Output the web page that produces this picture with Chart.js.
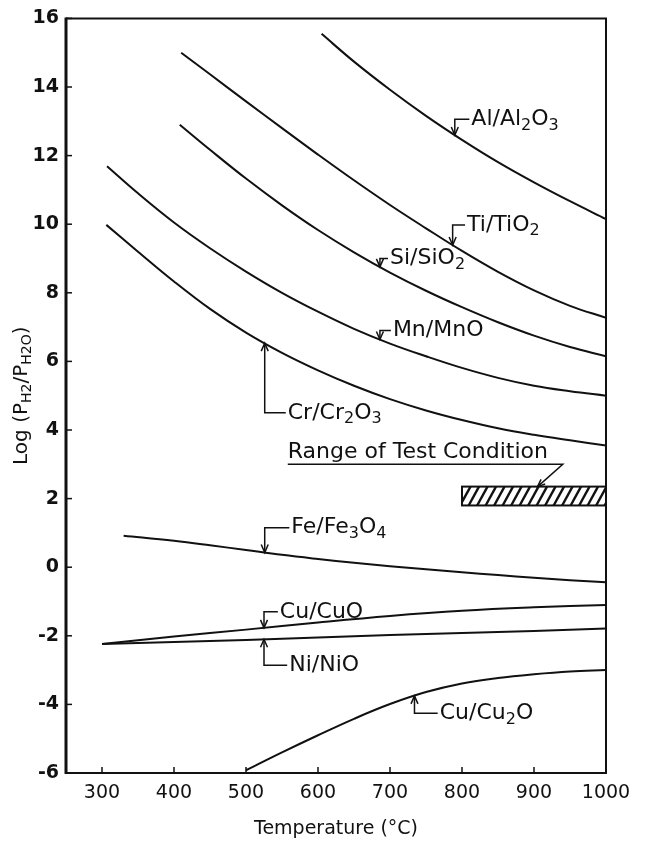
<!DOCTYPE html>
<html>
<head>
<meta charset="utf-8">
<script src="https://cdn.jsdelivr.net/npm/chart.js@4.4.1/dist/chart.umd.min.js"></script>
<style>
  html, body { margin: 0; padding: 0; background: #fff; }
  canvas { display: block; }
</style>
</head>
<body>
<canvas id="chart" width="654" height="844"></canvas>
<script>
// Axis ticks
const xTicks = [300, 400, 500, 600, 700, 800, 900, 1000];
const yTicks = [-6, -4, -2, 0, 2, 4, 6, 8, 10, 12, 14, 16];

// Equilibrium log(PH2/PH2O) of metal/oxide couples vs temperature (°C)
const alTemp = [605, 650, 700, 750, 800, 850, 900, 950, 1000];
const alLog  = [15.55, 14.74, 13.92, 13.16, 12.46, 11.81, 11.22, 10.67, 10.15];

const tiTemp = [410, 450, 500, 550, 600, 650, 700, 750, 800, 850, 900, 950, 1000];
const tiLog  = [15.0, 14.37, 13.58, 12.8, 12.03, 11.28, 10.56, 9.88, 9.22, 8.61, 8.07, 7.62, 7.27];

const siTemp = [408, 450, 500, 550, 600, 650, 700, 750, 800, 850, 900, 950, 1000];
const siLog  = [12.9, 12.17, 11.33, 10.55, 9.83, 9.18, 8.59, 8.06, 7.58, 7.14, 6.75, 6.42, 6.15];

const mnTemp = [307, 350, 400, 450, 500, 550, 600, 650, 700, 750, 800, 850, 900, 950, 1000];
const mnLog  = [11.69, 10.9, 10.05, 9.3, 8.62, 8.0, 7.45, 6.95, 6.52, 6.15, 5.81, 5.52, 5.29, 5.13, 5.0];

const crTemp = [306, 350, 400, 450, 500, 550, 600, 650, 700, 750, 800, 850, 900, 950, 1000];
const crLog  = [9.98, 9.2, 8.33, 7.53, 6.84, 6.25, 5.74, 5.29, 4.9, 4.57, 4.29, 4.05, 3.86, 3.7, 3.55];

const feTemp = [330, 400, 450, 500, 550, 600, 650, 700, 750, 800, 850, 900, 950, 1000];
const feLog  = [0.92, 0.77, 0.64, 0.5, 0.36, 0.24, 0.13, 0.03, -0.06, -0.15, -0.23, -0.31, -0.38, -0.44];

const cuoTemp = [300, 400, 500, 600, 700, 800, 900, 1000];
const cuoLog  = [-2.24, -2.02, -1.82, -1.61, -1.42, -1.27, -1.17, -1.1];

const nioTemp = [300, 400, 500, 600, 700, 800, 900, 1000];
const nioLog  = [-2.24, -2.18, -2.12, -2.05, -1.98, -1.92, -1.86, -1.79];

const cu2oTemp = [500, 550, 600, 650, 700, 750, 800, 850, 900, 950, 1000];
const cu2oLog  = [-5.92, -5.4, -4.9, -4.42, -3.99, -3.64, -3.39, -3.23, -3.12, -3.04, -3.0];

// Range of test condition (temperature span, log span)
const rangeTemp = [800, 1000];
const rangeLog  = [1.8, 2.35];

const INK = '#111';
const FONT = '"DejaVu Sans", "Liberation Sans", sans-serif';
const LABEL_SIZE = 22;

function series(temps, vals) {
  return {
    data: temps.map((t, i) => ({ x: t, y: vals[i] })),
    borderColor: INK,
    borderWidth: 2,
    pointRadius: 0,
    fill: false,
    tension: 0.4
  };
}

function interp(ts, vs, t) {
  if (t <= ts[0]) return vs[0];
  for (let i = 1; i < ts.length; i++) {
    if (t <= ts[i]) {
      const f = (t - ts[i - 1]) / (ts[i] - ts[i - 1]);
      return vs[i - 1] + f * (vs[i] - vs[i - 1]);
    }
  }
  return vs[vs.length - 1];
}

// Text with "_x" or "_{xy}" subscript markup
function parseRich(str) {
  const segs = [];
  let i = 0;
  while (i < str.length) {
    if (str[i] === '_') {
      if (str[i + 1] === '{') {
        const j = str.indexOf('}', i);
        segs.push([str.slice(i + 2, j), true]);
        i = j + 1;
      } else {
        segs.push([str[i + 1], true]);
        i += 2;
      }
    } else {
      let j = i;
      while (j < str.length && str[j] !== '_') j++;
      segs.push([str.slice(i, j), false]);
      i = j;
    }
  }
  return segs;
}

function drawRich(ctx, str, x, y, size, align, weight) {
  const segs = parseRich(str);
  const w = weight || 'normal';
  const big = `${w} ${size}px ${FONT}`;
  const small = `${w} ${Math.round(size * 0.72)}px ${FONT}`;
  let total = 0;
  const widths = segs.map(([s, sub]) => {
    ctx.font = sub ? small : big;
    const m = ctx.measureText(s).width;
    total += m;
    return m;
  });
  let cx = align === 'center' ? x - total / 2 : x;
  ctx.textBaseline = 'middle';
  ctx.textAlign = 'left';
  segs.forEach(([s, sub], k) => {
    ctx.font = sub ? small : big;
    ctx.fillText(s, cx, sub ? y + size * 0.28 : y);
    cx += widths[k];
  });
  return total;
}

function arrowHead(ctx, x, y, dirY) {
  // open arrowhead pointing toward dirY (+1 down, -1 up)
  const L = 8, W = 3.5;
  ctx.beginPath();
  ctx.moveTo(x - W, y - dirY * L);
  ctx.lineTo(x, y);
  ctx.lineTo(x + W, y - dirY * L);
  ctx.stroke();
}

// Callout labels: tip sits on the curve at tipAt, text starts at [temp, log]
const callouts = [
  { text: 'Al/Al_2O_3',  temps: alTemp,   vals: alLog,   tipAt: 790, textAt: [813, 13.06] },
  { text: 'Ti/TiO_2',    temps: tiTemp,   vals: tiLog,   tipAt: 787, textAt: [807, 9.98] },
  { text: 'Si/SiO_2',    temps: siTemp,   vals: siLog,   tipAt: 686, textAt: [700, 9.0] },
  { text: 'Mn/MnO',      temps: mnTemp,   vals: mnLog,   tipAt: 686, textAt: [704, 6.9] },
  { text: 'Cr/Cr_2O_3',  temps: crTemp,   vals: crLog,   tipAt: 526, textAt: [558, 4.5] },
  { text: 'Fe/Fe_3O_4',  temps: feTemp,   vals: feLog,   tipAt: 526, textAt: [563, 1.15] },
  { text: 'Cu/CuO',      temps: cuoTemp,  vals: cuoLog,  tipAt: 525, textAt: [547, -1.3] },
  { text: 'Ni/NiO',      temps: nioTemp,  vals: nioLog,  tipAt: 525, textAt: [560, -2.86] },
  { text: 'Cu/Cu_2O',    temps: cu2oTemp, vals: cu2oLog, tipAt: 734, textAt: [769, -4.26] }
];

const decorations = {
  id: 'decorations',
  afterDatasetsDraw(chart) {
    const { ctx, scales: { x, y } } = chart;
    ctx.save();
    ctx.strokeStyle = INK;
    ctx.fillStyle = INK;
    ctx.lineWidth = 1.5;

    // callouts
    callouts.forEach(c => {
      const tipX = x.getPixelForValue(c.tipAt);
      const tipY = y.getPixelForValue(interp(c.temps, c.vals, c.tipAt));
      const tx = x.getPixelForValue(c.textAt[0]);
      const ty = y.getPixelForValue(c.textAt[1]);
      ctx.beginPath();
      ctx.moveTo(tipX, tipY);
      ctx.lineTo(tipX, ty);
      ctx.lineTo(tx - 2, ty);
      ctx.stroke();
      arrowHead(ctx, tipX, tipY, tipY > ty ? 1 : -1);
      drawRich(ctx, c.text, tx, ty, LABEL_SIZE);
    });

    // hatched test-condition band
    const bx0 = x.getPixelForValue(rangeTemp[0]);
    const bx1 = x.getPixelForValue(rangeTemp[1]);
    const by0 = y.getPixelForValue(rangeLog[1]);
    const by1 = y.getPixelForValue(rangeLog[0]);
    ctx.save();
    ctx.beginPath();
    ctx.rect(bx0, by0, bx1 - bx0, by1 - by0);
    ctx.clip();
    ctx.lineWidth = 2.4;
    const h = by1 - by0;
    for (let sx = bx0 - h; sx < bx1 + h; sx += 8.5) {
      ctx.beginPath();
      ctx.moveTo(sx, by1);
      ctx.lineTo(sx + h * 0.55, by0);
      ctx.stroke();
    }
    ctx.restore();
    ctx.lineWidth = 2;
    ctx.strokeRect(bx0, by0, bx1 - bx0, by1 - by0);

    // band title, underline and pointer
    ctx.lineWidth = 1.5;
    const rtx = x.getPixelForValue(558);
    const rty = y.getPixelForValue(3.34);
    drawRich(ctx, 'Range of Test Condition', rtx, rty, LABEL_SIZE);
    const ulY = y.getPixelForValue(3.0);
    const ulEnd = x.getPixelForValue(940);
    ctx.beginPath();
    ctx.moveTo(rtx, ulY);
    ctx.lineTo(ulEnd, ulY);
    const px = x.getPixelForValue(905);
    ctx.lineTo(px, by0);
    ctx.stroke();
    const ang = Math.atan2(by0 - ulY, px - ulEnd);
    ctx.beginPath();
    ctx.moveTo(px - 8 * Math.cos(ang - 0.4), by0 - 8 * Math.sin(ang - 0.4));
    ctx.lineTo(px, by0);
    ctx.lineTo(px - 8 * Math.cos(ang + 0.4), by0 - 8 * Math.sin(ang + 0.4));
    ctx.stroke();
    ctx.restore();
  },
  afterDraw(chart) {
    const { ctx, chartArea: a, scales: { x, y } } = chart;
    ctx.save();
    ctx.strokeStyle = INK;
    ctx.fillStyle = INK;
    // frame
    ctx.lineWidth = 2;
    ctx.beginPath();
    ctx.moveTo(a.left, a.top);
    ctx.lineTo(a.right, a.top);
    ctx.lineTo(a.right, a.bottom);
    ctx.lineTo(a.left, a.bottom);
    ctx.stroke();
    ctx.lineWidth = 3;
    ctx.beginPath();
    ctx.moveTo(a.left, a.bottom + 1);
    ctx.lineTo(a.left, a.top - 1);
    ctx.stroke();
    // inward tick marks
    ctx.lineWidth = 1.5;
    yTicks.forEach(v => {
      const py = y.getPixelForValue(v);
      ctx.beginPath();
      ctx.moveTo(a.left, py);
      ctx.lineTo(a.left + 6, py);
      ctx.stroke();
    });
    xTicks.forEach(v => {
      if (v >= x.max) return;
      const px = x.getPixelForValue(v);
      ctx.beginPath();
      ctx.moveTo(px, a.bottom);
      ctx.lineTo(px, a.bottom - 6);
      ctx.stroke();
    });
    // y-axis title with subscripts
    ctx.translate(22, (a.top + a.bottom) / 2);
    ctx.rotate(-Math.PI / 2);
    drawRich(ctx, 'Log (P_{H2}/P_{H2O})', 0, 0, 20, 'center');
    ctx.restore();
  }
};

new Chart(document.getElementById('chart'), {
  type: 'line',
  data: {
    datasets: [
      series(alTemp, alLog),
      series(tiTemp, tiLog),
      series(siTemp, siLog),
      series(mnTemp, mnLog),
      series(crTemp, crLog),
      series(feTemp, feLog),
      series(cuoTemp, cuoLog),
      series(nioTemp, nioLog),
      series(cu2oTemp, cu2oLog)
    ]
  },
  options: {
    responsive: false,
    animation: false,
    events: [],
    layout: { padding: { left: 0, right: 48, top: 17, bottom: 0 } },
    plugins: { legend: { display: false }, tooltip: { enabled: false } },
    scales: {
      x: {
        type: 'linear',
        min: 250,
        max: 1000,
        afterBuildTicks: s => { s.ticks = xTicks.map(v => ({ value: v })); },
        afterFit: s => { s.height = 71; },
        grid: { display: false, drawTicks: false },
        border: { display: false },
        ticks: {
          color: INK,
          padding: 9,
          maxRotation: 0,
          autoSkip: false,
          callback: v => String(v),
          font: { family: FONT, size: 19 }
        },
        title: {
          display: true,
          text: 'Temperature (°C)',
          color: INK,
          padding: { top: 0, bottom: 4 },
          font: { family: FONT, size: 19 }
        }
      },
      y: {
        min: -6,
        max: 16,
        afterBuildTicks: s => { s.ticks = yTicks.map(v => ({ value: v })); },
        afterFit: s => { s.width = 66; },
        grid: { display: false, drawTicks: false },
        border: { display: false },
        ticks: {
          color: INK,
          padding: 7,
          autoSkip: false,
          callback: v => String(v),
          font: { family: FONT, size: 19, weight: 'bold' }
        }
      }
    }
  },
  plugins: [decorations]
});
</script>
</body>
</html>
